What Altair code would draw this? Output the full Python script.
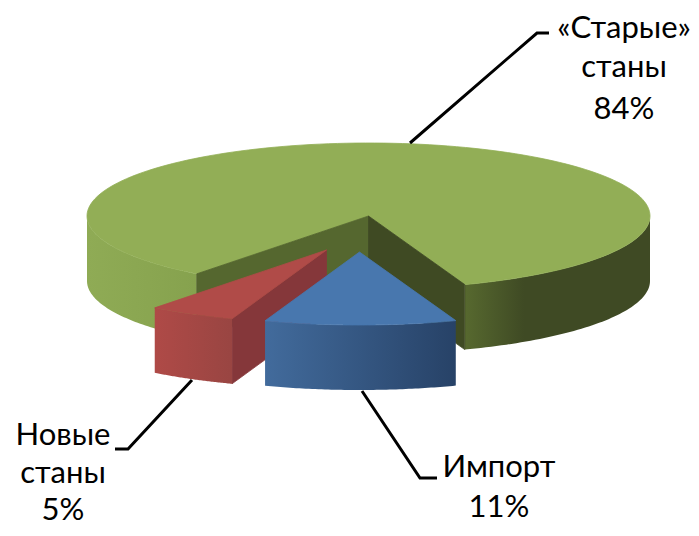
import math
import altair as alt
import pandas as pd

# Chart values
categories = ["«Старые» станы", "Импорт", "Новые станы"]
shares = [84, 11, 5]

# Label text lines
label_lines = ["«Старые»", "станы", "84%", "Импорт", "11%", "Новые", "станы", "5%"]
label_x = [624, 624, 624, 499, 499, 63, 63, 63]
label_y = [29, 68, 110, 468, 508, 436, 474, 511]

# Leader lines
leader_group = [0, 0, 0, 1, 1, 1, 2, 2, 2]
leader_x = [410, 537, 549, 362, 420, 437, 192, 128, 115]
leader_y = [143, 33, 33, 391, 478, 478, 380, 449, 449]

# Pie projection
CX, CY, RX, RY, DEPTH = 368.5, 216, 281.5, 73, 65
FIRST_ANGLE = 20.0
SHIFT_BLUE = (-9, 36)
SHIFT_RED = (-42, 34)

deg = [s * 3.6 for s in shares]
a_green = (FIRST_ANGLE, FIRST_ANGLE + deg[0])
a_red = (a_green[1], a_green[1] + deg[2])
a_blue = (a_red[1], a_red[1] + deg[1])


def pt(phi, dx=0, dy=0, drop=0):
    r = math.radians(phi)
    return (CX + dx + RX * math.sin(r), CY + dy + drop + RY * math.cos(r))


def arc(a, b, dx=0, dy=0, drop=0, n=60):
    return [pt(a + (b - a) * i / n, dx, dy, drop) for i in range(n + 1)]


def grad(c1, c2, mid=None):
    stops = [alt.GradientStop(offset=0, color=c1)]
    if mid:
        stops.append(alt.GradientStop(offset=mid[0], color=mid[1]))
    stops.append(alt.GradientStop(offset=1, color=c2))
    return alt.Gradient(gradient="linear", x1=0, x2=1, y1=0, y2=0, stops=stops)


X = alt.X("x:Q", scale=alt.Scale(domain=[8, 691], range=[0, 683]), axis=None)
Y = alt.Y("y:Q", scale=alt.Scale(domain=[8, 528], range=[0, 520]), axis=None)


def shape(points, fill):
    pts = points + [points[0]]
    df = pd.DataFrame({"x": [p[0] for p in pts], "y": [p[1] for p in pts], "i": range(len(pts))})
    if isinstance(fill, str):
        mark = alt.Chart(df).mark_line(fill=fill, stroke=fill, strokeWidth=0.8, interpolate="linear")
    else:
        mark = alt.Chart(df).mark_line(fill=fill, strokeWidth=0, interpolate="linear")
    return mark.encode(x=X, y=Y, order="i:Q")


def wall(a, b, fill, dx=0, dy=0):
    top = arc(a, b, dx, dy)
    bottom = arc(a, b, dx, dy, DEPTH)
    return shape(top + bottom[::-1], fill)


def cut(phi, fill, dx=0, dy=0):
    p = pt(phi, dx, dy)
    a = (CX + dx, CY + dy)
    return shape([a, p, (p[0], p[1] + DEPTH), (a[0], a[1] + DEPTH)], fill)


def top(a, b, fill, dx=0, dy=0):
    return shape([(CX + dx, CY + dy)] + arc(a, b, dx, dy, n=160), fill)


layers = [
    wall(a_green[0], 90, grad("#57692f", "#3f4a24", (0.32, "#3f4a24"))),
    wall(270, a_green[1], grad("#8fab55", "#86a24e")),
    top(a_green[0], a_green[1], "#92ae56"),
    cut(a_green[1], "#55672f"),
    cut(a_green[0], "#3f4a23"),
    cut(a_red[0] + 18, "#85373a", *SHIFT_RED),
    wall(a_red[0], a_red[1], grad("#af4a47", "#994542"), *SHIFT_RED),
    top(a_red[0], a_red[1], "#b04b48", *SHIFT_RED),
    wall(a_blue[0], a_blue[1], grad("#426b9c", "#274267"), *SHIFT_BLUE),
    top(a_blue[0], a_blue[1], "#4877ae", *SHIFT_BLUE),
]

leaders = alt.Chart(pd.DataFrame({"g": leader_group, "x": leader_x, "y": leader_y, "i": range(len(leader_x))})).mark_line(
    color="black", strokeWidth=3
).encode(x=X, y=Y, detail="g:N", order="i:Q")

labels = alt.Chart(pd.DataFrame({"t": label_lines, "x": label_x, "y": label_y})).mark_text(
    font="Lato", fontSize=31, color="black", align="center", baseline="middle"
).encode(x=X, y=Y, text="t:N")

chart = alt.layer(*layers, leaders, labels).properties(
    width=683, height=520, padding=0, autosize=alt.AutoSizeParams(type="none")
).configure_view(stroke=None)

chart.save("out.html", embed_options={"renderer": "svg", "actions": False})
